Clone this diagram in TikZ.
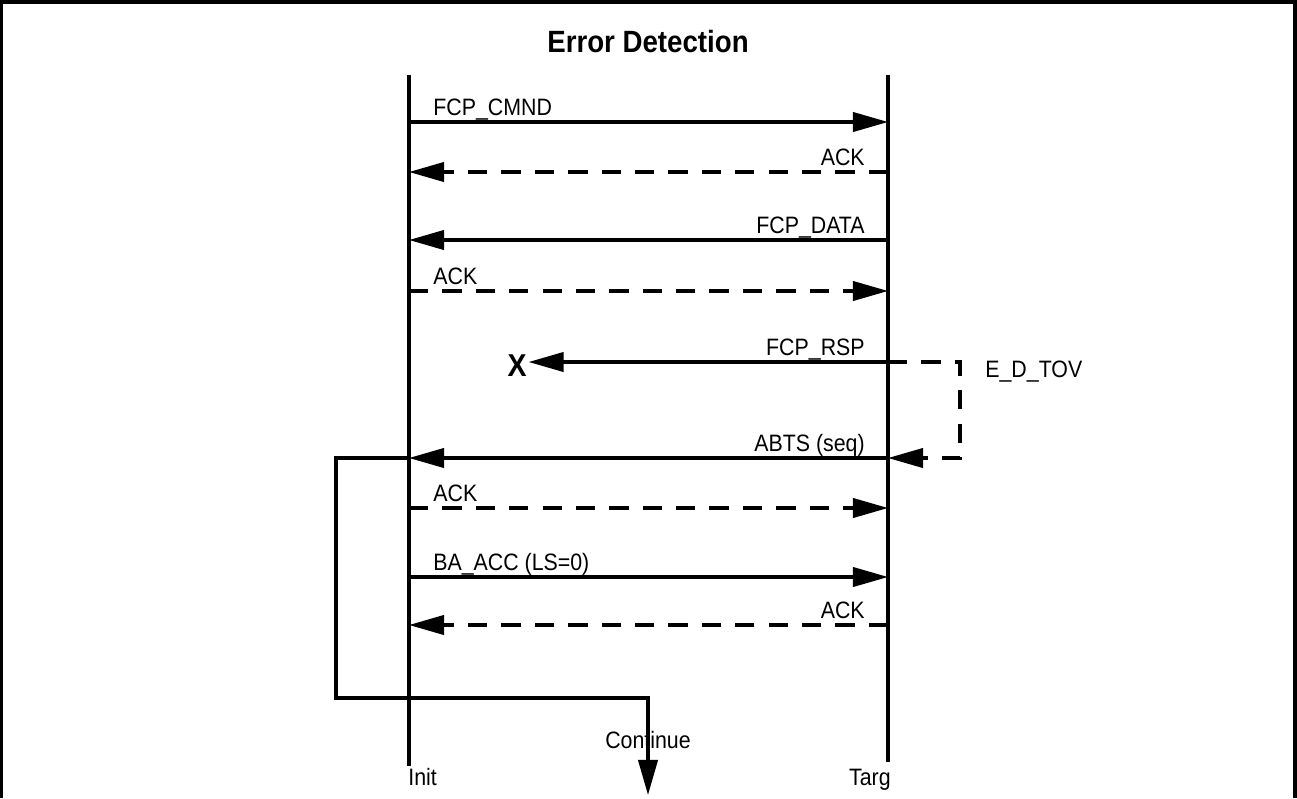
\documentclass[tikz,border=0pt]{standalone}
\usepackage{fontspec}
\setmainfont[FakeStretch=0.9]{Liberation Sans}
\usetikzlibrary{arrows.meta}

\begin{document}
\begin{tikzpicture}[x=0.02cm,y=-0.02cm,font=\fontsize{13.5}{15}\selectfont,
  life/.style={line width=1.8pt},
  msg/.style={-{Triangle[length=20pt,width=11pt]},line width=1.8pt},
  ack/.style={msg,dash pattern=on 11pt off 8pt},
  lblL/.style={anchor=base west,inner sep=0pt},
  lblR/.style={anchor=base east,inner sep=0pt}]
  \useasboundingbox (0,0) rectangle (1297,798);
  \draw[line width=2pt] (1,798)--(1,2)--(1295,2)--(1295,798);
  \node[font=\fontsize{17.5}{20}\selectfont\bfseries](title) at (648,42){Error Detection};
  % lifelines
  \coordinate (itop) at (409,75); \coordinate (ibot) at (409,766);
  \coordinate (ttop) at (888,75); \coordinate (tbot) at (888,762);
  \draw[life](itop)--(ibot); \draw[life](ttop)--(tbot);
  \node[lblL](init) at (408,785){Init};
  \node[lblR](targ) at (891,785){Targ};
  % message rows
  \foreach \y/\n in {122/1,172/2,240/3,291/4,362/5,458/6,508/7,577/8,625/9}{
    \coordinate (i\n) at (409,\y); \coordinate (t\n) at (888,\y);}
  \draw[msg](i1)--(t1); \node[lblL](m1) at (433,115){FCP\_CMND};
  \draw[ack](t2)--(i2); \node[lblR](m2) at (865,165){ACK};
  \draw[msg](t3)--(i3); \node[lblR](m3) at (865,233){FCP\_DATA};
  \draw[ack](i4)--(t4); \node[lblL](m4) at (433,284){ACK};
  \node[font=\fontsize{18}{20}\selectfont\bfseries,inner sep=1pt](xmark) at (517,366){X};
  \draw[msg](t5)--(t5-|xmark.east); \node[lblR](m5) at (865,355){FCP\_RSP};
  \draw[ack](t5)--++(72,0)|-(t6); \node[lblL](tov) at (985,377){E\_D\_TOV};
  \draw[msg](t6)--(i6); \node[lblR](m6) at (865,451){ABTS (seq)};
  \draw[ack](i7)--(t7); \node[lblL](m7) at (433,501){ACK};
  \draw[msg](i8)--(t8); \node[lblL](m8) at (433,570){BA\_ACC (LS=0)};
  \draw[ack](t9)--(i9); \node[lblR](m9) at (865,618){ACK};
  % continue
  \coordinate (bend) at (648,698); \coordinate (cont) at (648,795);
  \draw[msg](i6)--++(-73,0)|-(bend)--(cont);
  \node(conttxt) at (648,740){Continue};
\end{tikzpicture}
\end{document}
